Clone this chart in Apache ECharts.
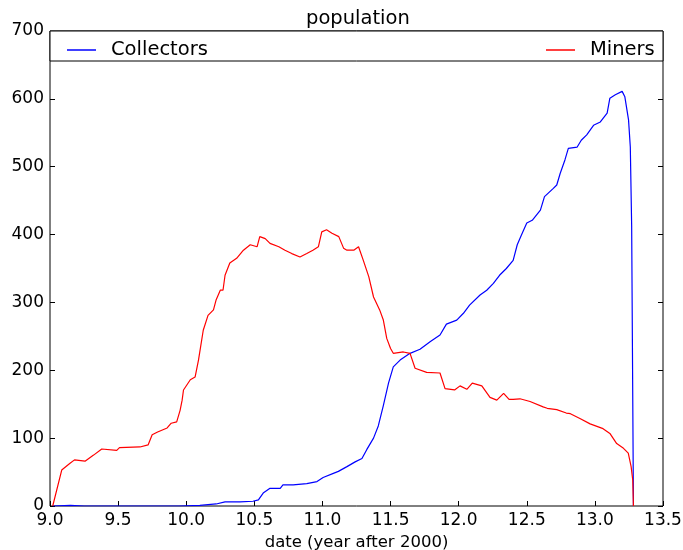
<!DOCTYPE html>
<html>
<head>
<meta charset="utf-8">
<script src="https://cdn.jsdelivr.net/npm/echarts@6/dist/echarts.min.js"></script>
<style>
html,body{margin:0;padding:0;background:#fff;}
#chart{width:683px;height:550px;}
</style>
</head>
<body>
<div id="chart"></div>
<script>
var chartTitle = 'population';
var xAxisName = 'date (year after 2000)';
var seriesNames = ['Collectors', 'Miners'];
var xTicks = [9.0, 9.5, 10.0, 10.5, 11.0, 11.5, 12.0, 12.5, 13.0, 13.5];
var yTicks = [0, 100, 200, 300, 400, 500, 600, 700];

var collectorsX = [9.02, 9.15, 9.25, 9.95, 10.10, 10.22, 10.285, 10.395, 10.49, 10.53, 10.565, 10.615, 10.69, 10.71, 10.785, 10.885, 10.96, 11.005, 11.08, 11.117, 11.18, 11.24, 11.29, 11.325, 11.375, 11.41, 11.447, 11.485, 11.52, 11.57, 11.643, 11.716, 11.79, 11.863, 11.91, 11.986, 12.035, 12.08, 12.157, 12.206, 12.255, 12.30, 12.35, 12.40, 12.43, 12.46, 12.50, 12.54, 12.60, 12.63, 12.695, 12.72, 12.745, 12.78, 12.805, 12.87, 12.90, 12.94, 12.99, 13.04, 13.09, 13.11, 13.15, 13.20, 13.22, 13.247, 13.26, 13.27, 13.283];
var collectorsY = [0, 1, 0, 0, 1, 3, 6, 6, 7, 9, 19, 26, 26, 31, 31, 33, 36, 42, 48, 51, 58, 65, 70, 83, 100, 118, 148, 181, 205, 215, 225, 231, 242, 252, 268, 274, 284, 296, 311, 318, 328, 340, 350, 362, 385, 399, 417, 421, 436, 456, 468, 473, 490, 510, 527, 529, 539, 547, 561, 566, 579, 601, 606, 611, 603, 569, 529, 412, 0];

var minersX = [9.02, 9.086, 9.147, 9.18, 9.257, 9.32, 9.38, 9.49, 9.51, 9.66, 9.72, 9.75, 9.79, 9.86, 9.89, 9.93, 9.955, 9.97, 9.98, 10.03, 10.065, 10.09, 10.125, 10.16, 10.2, 10.22, 10.25, 10.27, 10.285, 10.32, 10.37, 10.42, 10.47, 10.52, 10.54, 10.58, 10.615, 10.68, 10.725, 10.775, 10.835, 10.885, 10.93, 10.97, 10.995, 11.03, 11.07, 11.12, 11.155, 11.18, 11.23, 11.265, 11.3, 11.34, 11.375, 11.42, 11.447, 11.472, 11.5, 11.52, 11.594, 11.643, 11.68, 11.765, 11.863, 11.9, 11.97, 12.01, 12.06, 12.1, 12.17, 12.23, 12.28, 12.33, 12.37, 12.40, 12.45, 12.524, 12.62, 12.65, 12.72, 12.79, 12.82, 12.89, 12.965, 13.06, 13.11, 13.16, 13.21, 13.245, 13.266, 13.278, 13.283];
var minersY = [0, 53, 63, 68, 66, 75, 84, 82, 86, 87, 90, 105, 109, 115, 122, 124, 141, 156, 171, 186, 190, 215, 259, 281, 289, 304, 318, 318, 340, 358, 365, 377, 385, 382, 397, 394, 387, 382, 377, 372, 367, 372, 377, 382, 404, 407, 402, 397, 380, 377, 377, 382, 362, 338, 308, 289, 274, 247, 232, 225, 227, 225, 203, 197, 196, 173, 171, 177, 172, 181, 177, 160, 156, 166, 157, 157, 158, 154, 146, 144, 142, 137, 136, 129, 121, 114, 107, 92, 85, 78, 58, 38, 0];

function zip(xs, ys) { return xs.map(function (x, i) { return [x, ys[i]]; }); }

var FONT = 'DejaVu Sans';
var chart = echarts.init(document.getElementById('chart'), null, {renderer: 'canvas'});

var xMin = xTicks[0], xMax = xTicks[xTicks.length - 1], xInt = xTicks[1] - xTicks[0];
var yMin = yTicks[0], yMax = yTicks[yTicks.length - 1], yInt = yTicks[1] - yTicks[0];

var tickStyle = {show: true, inside: true, length: 5, lineStyle: {color: '#000', width: 1}};

chart.setOption({
  animation: false,
  backgroundColor: '#fff',
  title: {
    text: chartTitle,
    left: 306,
    top: 9,
    padding: 0,
    textStyle: {fontFamily: FONT, fontSize: 19.5, fontWeight: 'normal', color: '#000'}
  },
  grid: {left: 50, right: 20, top: 31, bottom: 44, containLabel: false, outerBoundsMode: 'none', show: true, borderColor: '#000', borderWidth: 1, backgroundColor: 'transparent'},
  legend: [
    {
      data: [{name: seriesNames[0], icon: 'rect'}],
      left: 62, top: 35, itemWidth: 29, itemHeight: 1.5, z: 20,
      textStyle: {fontFamily: FONT, fontSize: 19.5, color: '#000', padding: [0, 0, 0, 10]}
    },
    {
      data: [{name: seriesNames[1], icon: 'rect'}],
      left: 541, top: 35, itemWidth: 29, itemHeight: 1.5, z: 20,
      textStyle: {fontFamily: FONT, fontSize: 19.5, color: '#000', padding: [0, 0, 0, 10]}
    }
  ],
  graphic: [
    {type: 'rect', z: 10, shape: {x: 50, y: 31, width: 613, height: 30}, style: {fill: '#fff', stroke: '#000', lineWidth: 1}}
  ],
  xAxis: [
    {
      type: 'value', min: xMin, max: xMax, interval: xInt,
      name: xAxisName, nameLocation: 'middle', nameGap: 22,
      nameTextStyle: {fontFamily: FONT, fontSize: 16.5, color: '#000'},
      axisLine: {show: false},
      axisTick: tickStyle,
      splitLine: {show: false},
      axisLabel: {fontFamily: FONT, fontSize: 17, color: '#000', margin: 6, formatter: function (v) { return v.toFixed(1); }}
    }
  ],
  yAxis: [
    {
      type: 'value', min: yMin, max: yMax, interval: yInt,
      axisLine: {show: false},
      axisTick: tickStyle,
      splitLine: {show: false},
      axisLabel: {fontFamily: FONT, fontSize: 17, color: '#000', margin: 6}
    },
    {
      type: 'value', position: 'right', min: yMin, max: yMax, interval: yInt,
      axisLine: {show: false},
      axisTick: tickStyle,
      splitLine: {show: false},
      axisLabel: {show: false}
    }
  ],
  series: [
    {
      name: seriesNames[0], type: 'line', data: zip(collectorsX, collectorsY),
      showSymbol: false, symbol: 'none', color: '#0000ff',
      lineStyle: {color: '#0000ff', width: 1.2}
    },
    {
      name: seriesNames[1], type: 'line', data: zip(minersX, minersY),
      showSymbol: false, symbol: 'none', color: '#ff0000',
      lineStyle: {color: '#ff0000', width: 1.2}
    }
  ]
});
</script>
</body>
</html>
